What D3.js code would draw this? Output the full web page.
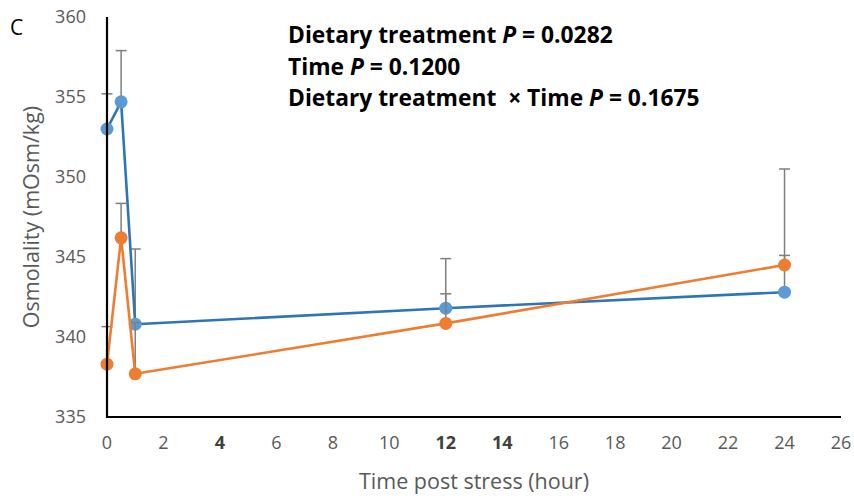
<!DOCTYPE html>
<html>
<head>
<meta charset="utf-8">
<script src="https://cdn.jsdelivr.net/npm/d3@7"></script>
<style>
  html, body { margin: 0; padding: 0; background: #fff; }
  svg { display: block; }
  text { font-family: "Open Sans", "Noto Sans", sans-serif; white-space: pre; }
</style>
</head>
<body>
<svg id="chart" width="854" height="502"></svg>
<script>
// Sampling times (hours after stress)
const times = [0, 0.5, 1, 12, 24];

// Series 1 (blue): mean osmolality and upper SE
const series1Means = [353.0, 354.7, 340.8, 341.8, 342.8];
const series1SE    = [2.2, 3.2, 4.7, 3.1, 7.7];

// Series 2 (orange): mean osmolality and upper SE
const series2Means = [338.3, 346.2, 337.7, 340.85, 344.5];
const series2SE    = [2.35, 2.15, 3.2, 1.85, 0.6];

// Axis ticks
const xTicks = [0, 2, 4, 6, 8, 10, 12, 14, 16, 18, 20, 22, 24, 26];
const xBoldTicks = [4, 12, 14];
const yTicks = [335, 340, 345, 350, 355, 360];

// Statistics annotation
const statLines = [
  [{t: "Dietary treatment "}, {t: "P", i: true}, {t: " = 0.0282"}],
  [{t: "Time "}, {t: "P", i: true}, {t: " = 0.1200"}],
  [{t: "Dietary treatment  \u00d7 Time "}, {t: "P", i: true}, {t: " = 0.1675"}]
];

const svg = d3.select("#chart");
const x = d3.scaleLinear().domain([0, 26]).range([107, 841]);
const y = d3.scaleLinear().domain([335, 360]).range([417, 17]);

const series = [
  {means: series1Means, se: series1SE, line: "#2e75b6", marker: "#5b9bd5"},
  {means: series2Means, se: series2SE, line: "#ed7d31", marker: "#ed7d31"}
];

const capW = 5.5;
series.forEach(s => {
  const pts = times.map((t, i) => ({t, m: s.means[i], e: s.se[i]}));
  const g = svg.append("g");
  // upper error bars
  const eb = g.append("g").attr("stroke", "#7f7f7f").attr("stroke-width", 1.5);
  pts.forEach(p => {
    eb.append("line").attr("x1", x(p.t)).attr("x2", x(p.t))
      .attr("y1", y(p.m)).attr("y2", y(p.m + p.e));
    eb.append("line").attr("x1", x(p.t) - capW).attr("x2", x(p.t) + capW)
      .attr("y1", y(p.m + p.e)).attr("y2", y(p.m + p.e));
  });
  // connecting line
  g.append("path").datum(pts)
    .attr("fill", "none").attr("stroke", s.line).attr("stroke-width", 2.6)
    .attr("stroke-linejoin", "round")
    .attr("d", d3.line().x(p => x(p.t)).y(p => y(p.m)));
  // markers
  g.selectAll("circle").data(pts).join("circle")
    .attr("cx", p => x(p.t)).attr("cy", p => y(p.m)).attr("r", 6.5)
    .attr("fill", s.marker);
});

// axis lines (drawn over the markers)
const axis = svg.append("g").attr("stroke", "#000").attr("stroke-width", 2.2);
axis.append("line").attr("x1", x(0)).attr("x2", x(0)).attr("y1", y(360)).attr("y2", y(335) + 1);
axis.append("line").attr("x1", x(0) - 1).attr("x2", x(26)).attr("y1", y(335)).attr("y2", y(335));

// y tick labels
svg.append("g").selectAll("text").data(yTicks).join("text")
  .attr("x", 86).attr("y", d => y(d)).attr("dy", "0.36em")
  .attr("text-anchor", "end").attr("font-size", 18).attr("fill", "#595959")
  .text(d => d);

// x tick labels
svg.append("g").selectAll("text").data(xTicks).join("text")
  .attr("x", d => x(d)).attr("y", 443).attr("dy", "0.36em")
  .attr("text-anchor", "middle").attr("font-size", 18)
  .attr("fill", d => xBoldTicks.includes(d) ? "#404040" : "#595959")
  .attr("font-weight", d => xBoldTicks.includes(d) ? "bold" : "normal")
  .text(d => d);

// axis titles
svg.append("text").attr("x", 474).attr("y", 481).attr("dy", "0.36em")
  .attr("text-anchor", "middle").attr("font-size", 21.5).attr("fill", "#595959")
  .text("Time post stress (hour)");
svg.append("text")
  .attr("transform", "translate(31,217) rotate(-90)")
  .attr("dy", "0.36em").attr("text-anchor", "middle")
  .attr("font-size", 21.5).attr("fill", "#595959")
  .text("Osmolality (mOsm/kg)");

// panel letter
svg.append("text").attr("x", 10).attr("y", 27).attr("dy", "0.36em")
  .attr("font-size", 21).attr("fill", "#000").text("C");

// statistics annotation
const ann = svg.append("text").attr("font-size", 22.8).attr("font-weight", "bold").attr("fill", "#000");
statLines.forEach((parts, i) => {
  const row = ann.append("tspan").attr("x", 288).attr("y", 35 + i * 31.5).attr("dy", "0.36em");
  parts.forEach(p => {
    row.append("tspan").attr("font-style", p.i ? "italic" : "normal").text(p.t);
  });
});
</script>
</body>
</html>
